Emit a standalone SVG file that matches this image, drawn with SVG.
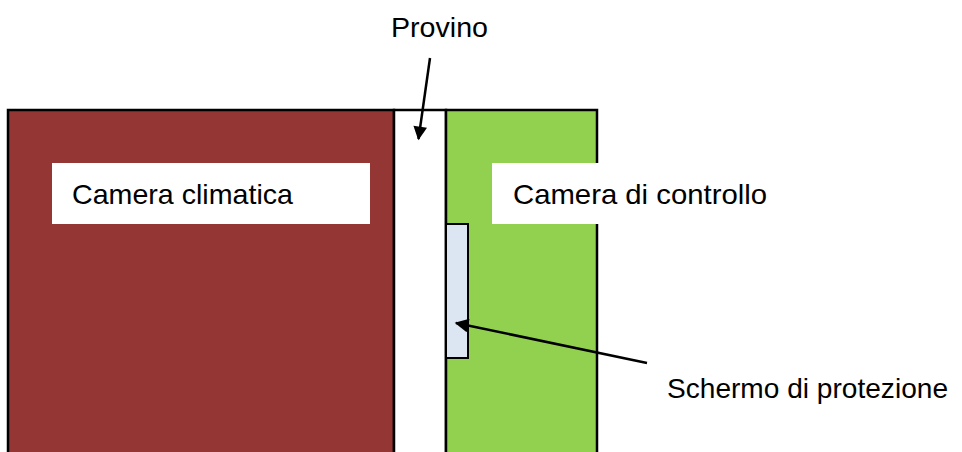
<svg xmlns="http://www.w3.org/2000/svg" width="962" height="452" viewBox="0 0 962 452">
<defs>
<style>
.lbl{font-family:"Liberation Sans",Arial,sans-serif;font-size:28.5px;fill:#000}
.edge{stroke:#000;stroke-width:2.5;fill:none}
.box{stroke:#000;stroke-width:2.5}
</style>
<marker id="ah" viewBox="0 0 10 10" refX="9" refY="5" markerWidth="6" markerHeight="5.5" orient="auto" markerUnits="strokeWidth">
<path d="M0,0 L10,5 L0,10 z" fill="#000"/>
</marker>
</defs>
<rect width="962" height="452" fill="#fff"/>
<g id="camera-climatica">
<rect class="box" x="8" y="110" width="386" height="350" fill="#943634"/>
<rect x="52" y="163" width="318" height="61" fill="#fff"/>
<text class="lbl" x="72" y="204" textLength="221" lengthAdjust="spacingAndGlyphs">Camera climatica</text>
</g>
<g id="provino">
<rect class="box" x="394" y="110" width="52" height="350" fill="#fff"/>
<text class="lbl" x="391" y="37" textLength="97" lengthAdjust="spacingAndGlyphs">Provino</text>
</g>
<g id="camera-controllo">
<rect class="box" x="446" y="110" width="151" height="350" fill="#92D050"/>
<rect x="492" y="163" width="290" height="61" fill="#fff"/>
<text class="lbl" x="513" y="204" textLength="254" lengthAdjust="spacingAndGlyphs">Camera di controllo</text>
</g>
<g id="schermo">
<rect x="446" y="224" width="22" height="134" fill="#DCE6F2" stroke="#000" stroke-width="2"/>
<text class="lbl" x="667" y="398" textLength="281" lengthAdjust="spacingAndGlyphs">Schermo di protezione</text>
</g>
<g id="connectors">
<line class="edge" x1="430" y1="58" x2="418.5" y2="139" marker-end="url(#ah)"/>
<line class="edge" x1="647" y1="363" x2="456" y2="323" marker-end="url(#ah)"/>
</g>
</svg>
